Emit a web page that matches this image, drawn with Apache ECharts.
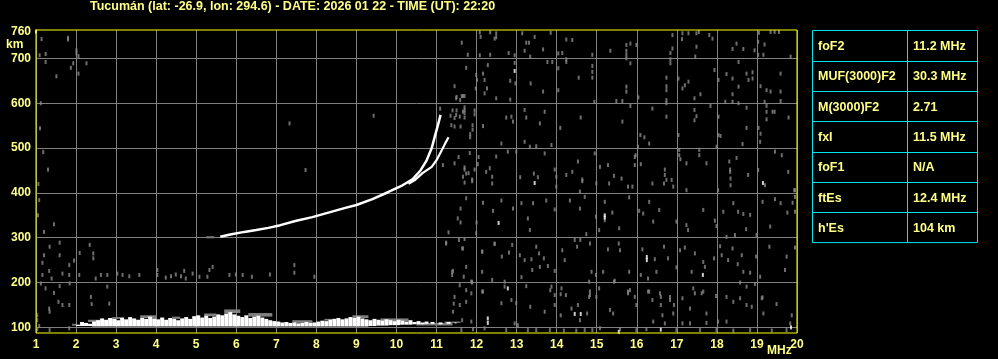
<!DOCTYPE html>
<html><head><meta charset="utf-8">
<script src="https://cdn.jsdelivr.net/npm/echarts@6/dist/echarts.min.js"></script>
<style>html,body{margin:0;padding:0;background:#000;}#c{width:998px;height:359px;}</style>
</head><body><div id="c"></div>
<script>
const titleText = 'Tucumán (lat: -26.9, lon: 294.6) - DATE: 2026 01 22 - TIME (UT): 22:20';
const yTicks = [100, 200, 300, 400, 500, 600, 700];
const yLabels = [100, 200, 300, 400, 500, 600, 700, 760];
const paramNames = ['foF2', 'MUF(3000)F2', 'M(3000)F2', 'fxI', 'foF1', 'ftEs', "h'Es"];
const paramValues = ['11.2 MHz', '30.3 MHz', '2.71', '11.5 MHz', 'N/A', '12.4 MHz', '104 km'];

// F-layer traces [MHz, km]
const oTrace = [[5.6,302],[5.85,307],[6.2,313],[6.5,317],[6.8,322],[7.1,328],[7.5,338],[7.9,346],[8.3,356],[8.7,366],[9.0,373],[9.4,386],[9.8,402],[10.15,417],[10.4,430],[10.6,450],[10.75,472],[10.88,500],[10.97,530],[11.05,556],[11.1,574]];
const xTrace = [[10.3,420],[10.45,428],[10.65,444],[10.88,458],[11.0,473],[11.13,495],[11.22,511],[11.3,524]];
const fStart = [[5.25,301],[5.45,301]];

// E-layer echo band columns: [fStart, fEnd, hLow, hHigh]
const eBandWhite = [
[2.0,2.1,103,106],[2.1,2.2,103,112],[2.2,2.3,103,110],[2.3,2.4,103,108],[2.4,2.5,102,113],[2.5,2.6,102,116],[2.6,2.7,102,120],[2.7,2.8,102,117],[2.8,2.9,102,121],[2.9,3.0,102,119],
[3.0,3.1,102,116],[3.1,3.2,102,122],[3.2,3.3,102,118],[3.3,3.4,102,123],[3.4,3.5,102,120],[3.5,3.6,102,117],[3.6,3.7,102,121],[3.7,3.8,102,119],[3.8,3.9,102,124],[3.9,4.0,102,120],
[4.0,4.1,102,118],[4.1,4.2,102,122],[4.2,4.3,102,117],[4.3,4.4,102,121],[4.4,4.5,102,119],[4.5,4.6,102,116],[4.6,4.7,102,120],[4.7,4.8,102,123],[4.8,4.9,102,119],[4.9,5.0,102,125],
[5.0,5.1,102,127],[5.1,5.2,102,122],[5.2,5.3,102,126],[5.3,5.4,102,121],[5.4,5.5,102,124],[5.5,5.6,102,129],[5.6,5.7,102,127],[5.7,5.8,102,131],[5.8,5.9,102,134],[5.9,6.0,102,129],
[6.0,6.1,102,126],[6.1,6.2,102,123],[6.2,6.3,102,127],[6.3,6.4,102,121],[6.4,6.5,102,124],[6.5,6.6,102,126],[6.6,6.7,102,122],[6.7,6.8,102,119],[6.8,6.9,102,116],[6.9,7.0,102,114],
[7.0,7.1,102,113],[7.1,7.2,102,111],[7.2,7.3,102,112],[7.3,7.4,102,110],[7.4,7.5,102,111],[7.5,7.6,102,109],[7.6,7.7,102,110],[7.7,7.8,102,112],[7.8,7.9,102,110],[7.9,8.0,102,111],
[8.0,8.1,102,113],[8.1,8.2,102,115],[8.2,8.3,102,114],[8.3,8.4,102,117],[8.4,8.5,102,119],[8.5,8.6,102,121],[8.6,8.7,102,118],[8.7,8.8,102,120],[8.8,8.9,102,123],[8.9,9.0,102,121],
[9.0,9.1,102,124],[9.1,9.2,102,120],[9.2,9.3,102,118],[9.3,9.4,103,116],[9.4,9.5,103,119],[9.5,9.6,104,117],[9.6,9.7,104,115],[9.7,9.8,104,118],[9.8,9.9,105,116],[9.9,10.0,105,114],
[10.0,10.1,105,117],[10.1,10.2,106,115],[10.2,10.3,106,113],[10.3,10.4,106,116],[10.4,10.5,107,112],[10.5,10.6,107,114],[10.6,10.7,107,111],[10.7,10.8,108,113],
[10.85,10.95,108,112],[11.05,11.15,107,111],[11.25,11.35,108,112],[11.45,11.5,109,111]];
const eBandGray = [[1.9,2.0,104,108],[2.3,2.6,112,117],[2.9,3.1,119,123],[3.6,4.0,121,127],[4.4,4.6,119,124],[5.2,5.5,125,131],[5.7,6.1,132,140],[6.3,6.9,124,132],[7.4,7.9,110,116],[8.2,8.5,115,119],[8.9,9.3,121,127],[9.6,10.3,114,120],[10.5,11.4,104,110],[11.2,11.6,110,113]];

// isolated strong echoes
const whiteDots = [[13.45,422],[12.55,333],[15.2,350],[15.2,345],[16.25,257],[16.25,250],[17.65,217],[12.78,187],[19.15,422],[12.95,672],[14.45,130],[14.6,130],[15.55,90],[16.6,95],[19.85,100],[12.28,110],[12.28,120],[1.0,760]];

// weak scattered echoes
const noiseGray = [
[1.14,743],[1.24,710],[1.09,707],[1.24,692],[1.8,746],[1.8,742],[2.01,718],[2.01,711],[2.06,705],[1.93,689],[1.87,679],[2.06,666],[1.51,660],[2.26,689],
[1.1,544],[1.18,491],[1.08,384],[1.05,350],[1.2,313],[1.3,452],[1.06,420],[1.45,330],[1.12,600],
[12.08,758],[12.34,758],[12.49,756],[12.49,747],[12.1,748],[12.45,744],[13.14,756],[13.45,748],[13.85,757],[14.24,742],[14.39,741],[13.24,735],[13.31,735],[11.63,735],[11.78,708],[12.08,707],[12.34,708],[12.8,712],[12.95,707],[13.2,717],[13.34,704],[13.66,720],[13.77,692],[13.89,692],[14.04,711],[14.14,712],[14.24,698],[14.89,708],[15.34,717],[15.74,730],[15.84,733],[15.74,717],[15.74,708],[15.99,730],[15.84,689],[15.74,700],[16.89,752],[16.89,722],[16.84,712],[16.84,698],[16.84,689],[17.13,743],[17.14,756],[17.29,756],[17.49,756],[17.55,759],[17.81,752],[17.89,744],[18.49,733],[18.39,721],[18.66,721],[18.94,718],[19.03,737],[19.05,757],[19.19,731],[19.34,759],[19.44,759],[19.55,759],[19.16,708],[19.84,704],[17.49,726],[17.46,704],[19.03,708],
[11.74,679],[11.99,663],[12.01,652],[12.16,666],[12.28,685],[12.2,652],[11.98,633],[12.2,622],[12.26,633],[11.66,616],[11.59,607],[11.49,611],[11.45,638],[12.49,611],[12.84,650],[12.84,608],[12.95,690],[12.97,644],[13.35,644],[13.66,626],[14.04,629],[14.04,678],[14.24,692],[14.55,657],[14.89,683],[14.89,670],[14.89,657],[14.94,603],[15.49,605],[15.64,605],[15.74,637],[15.74,626],[15.84,594],[16.04,613],[16.39,588],[16.74,657],[16.74,638],[16.74,629],[16.74,607],[16.74,600],[17.04,655],[17.14,633],[17.2,640],[17.29,648],[17.44,611],[17.59,620],[17.84,594],[17.94,674],[18.04,652],[18.24,665],[18.39,655],[18.39,620],[18.54,692],[18.74,666],[18.79,652],[18.89,669],[18.89,655],[19.09,638],[19.24,629],[19.34,626],[19.59,626],[19.59,666],[19.59,605],[19.19,603],[19.24,594],[19.39,581],[19.24,581],[18.74,590],[18.54,637],[18.21,603],[18.39,603],[18.54,600],[18.04,570],[18.04,529],[18.09,527],[17.44,585],[17.44,562],[17.49,571],[17.04,529],[16.74,570],[16.09,529],[16.19,524],[15.64,559],[14.6,568],[14.09,545],[13.58,555],[13.7,581],[13.2,585],[13.24,568],[12.87,570],[12.74,568],[12.91,559],[12.16,549],[11.84,531],[11.84,524],[11.95,575],[11.66,581],[11.7,568],[11.58,570],[11.35,572],[11.49,574],[11.37,551],[11.09,588],[18.74,545],[19.04,545],[19.09,532],[19.79,568],[19.24,564],[19.44,581],
[11.45,466],[11.66,436],[11.74,443],[11.7,423],[11.89,430],[11.89,426],[12.03,464],[12.24,447],[12.33,455],[12.39,436],[12.49,481],[12.39,421],[12.62,510],[12.78,492],[12.99,492],[13.09,435],[13.2,514],[13.33,503],[13.49,504],[13.43,443],[13.53,435],[13.7,488],[13.87,507],[13.95,452],[13.99,436],[13.99,414],[14.24,440],[14.39,447],[14.53,470],[14.64,430],[14.64,426],[14.58,403],[14.95,488],[14.99,421],[15.08,458],[15.28,462],[15.31,421],[15.43,438],[15.62,432],[15.78,414],[15.89,414],[15.95,480],[15.95,462],[15.97,484],[16.03,503],[16.1,464],[16.31,510],[16.39,421],[16.7,452],[16.7,440],[16.74,429],[16.68,421],[16.87,429],[16.91,414],[17.06,496],[17.06,484],[17.09,475],[17.24,466],[17.24,406],[17.56,496],[17.56,484],[17.74,466],[17.99,503],[18.03,406],[18.33,452],[18.33,447],[18.34,432],[18.34,417],[18.31,470],[18.49,478],[18.64,509],[18.78,440],[19.03,451],[19.08,514],[19.2,417],[19.45,492],[19.62,484],[19.78,447],[19.95,406],[11.16,462],
[11.74,388],[11.53,343],[11.99,310],[12.16,378],[12.41,360],[12.62,383],[12.91,365],[13.12,377],[13.28,343],[13.33,317],[13.41,377],[13.74,383],[13.95,363],[14.33,383],[14.58,365],[14.7,391],[14.74,308],[14.98,347],[15.06,317],[15.2,380],[15.2,339],[15.39,356],[15.56,321],[15.81,390],[16.06,360],[16.16,354],[16.31,380],[16.41,336],[16.56,362],[16.99,336],[17.24,328],[17.28,317],[17.66,362],[17.95,338],[17.99,326],[18.16,358],[18.41,377],[18.45,306],[18.53,358],[18.66,353],[18.73,319],[18.83,351],[18.99,306],[19.14,380],[19.33,325],[19.45,386],[19.59,377],[19.76,356],[19.89,378],[19.93,406],[19.95,391],[19.95,358],[18.24,302],
[11.24,287],[11.56,295],[11.64,276],[12.14,269],[12.45,286],[12.63,258],[12.81,267],[12.89,284],[13.08,261],[13.2,250],[13.37,252],[13.49,280],[13.56,265],[13.68,254],[13.78,237],[11.41,226],[11.68,213],[11.88,202],[12.14,224],[12.39,206],[12.7,202],[13.12,212],[13.39,228],[13.58,235],[13.95,226],[14.14,272],[14.2,250],[14.45,295],[14.59,295],[14.51,280],[14.83,287],[14.87,224],[14.98,217],[15.16,224],[15.28,274],[15.58,272],[15.55,287],[15.81,224],[16.1,217],[16.14,274],[16.28,209],[16.45,252],[16.49,224],[16.68,280],[16.78,254],[16.99,234],[17.08,272],[17.2,278],[17.37,224],[17.45,265],[17.66,246],[17.7,235],[17.93,254],[18.08,281],[18.12,261],[18.28,250],[18.39,276],[18.52,241],[18.62,261],[18.66,224],[18.83,222],[18.98,258],[19.08,213],[19.31,280],[19.7,228],[19.74,258],[19.95,278],
[11.58,194],[11.89,200],[12.16,180],[12.7,191],[13.24,192],[13.87,191],[13.95,172],[14.12,187],[14.83,172],[15.06,187],[14.99,168],[15.45,204],[15.78,180],[16.31,180],[16.58,176],[16.83,168],[17.41,187],[17.62,176],[17.98,170],[18.24,168],[18.58,200],[18.74,191],[18.95,197],[19.14,167],
[13.84,183],[14.1,174],[14.23,172],[14.81,202],[14.83,180],[14.81,168],[14.53,150],[14.37,142],[14.76,131],[14.58,116],[14.1,127],[13.95,150],[13.7,135],[13.34,146],[12.99,154],[12.87,161],[12.62,154],[12.95,109],[13.03,105],[12.74,94],[13.28,94],[13.83,94],[14.18,93],[14.49,93],[14.7,94],[14.89,94],[15.08,98],[15.33,139],[15.43,202],[15.41,131],[15.78,176],[15.83,183],[15.95,168],[15.99,150],[16.28,180],[16.39,161],[16.6,168],[16.6,150],[16.83,161],[16.93,150],[16.64,127],[16.41,113],[16.7,109],[16.91,131],[17.14,165],[17.33,142],[17.45,176],[17.66,180],[17.74,131],[17.74,110],[17.33,109],[17.14,109],[18.03,113],[18.24,113],[18.41,157],[18.58,165],[18.74,150],[18.87,146],[19.16,131],[19.49,152],[19.12,165],[19.83,109],[19.87,127],[16.99,94],[17.58,94],[17.99,94],[18.41,93],[18.83,94],[19.37,93],[19.74,94],[15.99,94],[16.24,96],[15.58,96],[13.49,94],
[1.2,261],[1.34,280],[1.59,289],[2.34,284],[2.09,266],[2.43,265],[2.43,254],[1.59,261],[1.95,249],[1.83,239],[1.16,244],[1.16,217],[1.33,226],[1.39,209],[1.66,220],[1.83,217],[2.08,217],[2.49,209],[2.62,217],[2.78,217],[3.03,220],[3.16,217],[3.33,214],[3.58,217],[4.03,228],[4.03,217],[4.24,211],[4.37,214],[4.49,218],[4.62,214],[4.7,226],[4.74,209],[4.91,220],[5.08,213],[5.28,213],[5.33,228],[5.41,235],[5.83,217],[5.99,218],[6.16,217],[6.39,213],[6.84,218],[7.45,239],[7.45,222],[7.95,213],[11.24,289],[11.39,224],[11.39,217],[11.66,276],[11.74,235],[12.14,269],[12.45,287],[11.87,202],[11.74,183],[11.87,176],[12.14,180],[11.45,168],[11.43,153],[11.58,150],[11.41,135],[11.74,157],[11.64,116],[11.87,113],[12.2,98],[11.62,94],[11.91,96],
[1.24,187],[1.45,177],[1.59,192],[1.84,198],[1.12,198],[1.56,157],[1.66,150],[1.83,150],[1.33,142],[1.34,135],[2.37,168],[2.39,152],[2.83,153],[2.78,191],[1.03,127],[1.03,116],[1.08,103],[1.03,96],[1.83,98],[1.34,94],
[7.33,555],[7.73,451],[9.43,572],[11.5,614],[11.63,616],[11.7,616],[11.7,591],[11.7,585],[11.7,578],[11.95,584],[11.4,584],[11.5,584],[11.45,548],[11.6,548],[11.9,551],[11.9,541],[11.83,489],[11.55,480],[11.7,457],[11.7,452],[11.95,452],[11.8,444],[11.6,365],[11.6,334],[11.3,312],[11.7,297],[12.0,334],[12.05,480],[11.45,567]
];

const chart = echarts.init(document.getElementById('c'), null, {renderer: 'canvas'});
const Y = '#ffff88';
const FONT = 'Liberation Sans';

const rectItem = (fill) => function (params, api) {
  const p1 = api.coord([api.value(0), api.value(3)]);
  const p2 = api.coord([api.value(1), api.value(2)]);
  return {type: 'rect', shape: {x: p1[0], y: p1[1], width: p2[0] - p1[0], height: p2[1] - p1[1]}, style: {fill: fill}};
};

// table graphic
const tblX = 812.5, tblY = 30.5, rowH = 30.3, tblW = 165, colX = 907.5;
const g = [];
g.push({type: 'rect', shape: {x: tblX, y: tblY, width: tblW, height: rowH * paramNames.length}, style: {fill: 'none', stroke: '#00e5ee', lineWidth: 1}, z: 10});
g.push({type: 'line', shape: {x1: colX, y1: tblY, x2: colX, y2: tblY + rowH * paramNames.length}, style: {stroke: '#00e5ee', lineWidth: 1}, z: 10});
paramNames.forEach((n, i) => {
  if (i > 0) g.push({type: 'line', shape: {x1: tblX, y1: Math.round(tblY + i * rowH) + 0.5, x2: tblX + tblW, y2: Math.round(tblY + i * rowH) + 0.5}, style: {stroke: '#00e5ee', lineWidth: 1}, z: 10});
  const cy = tblY + i * rowH + rowH / 2 + 1;
  g.push({type: 'text', x: 818, y: cy, style: {text: n, fill: Y, font: 'bold 12.5px ' + FONT, verticalAlign: 'middle'}, z: 10});
  g.push({type: 'text', x: 913, y: cy, style: {text: paramValues[i], fill: Y, font: 'bold 12.5px ' + FONT, verticalAlign: 'middle'}, z: 10});
});
g.push({type: 'text', x: 6, y: 45, style: {text: 'km', fill: Y, font: 'bold 12px ' + FONT, verticalAlign: 'middle'}, z: 10});
g.push({type: 'text', x: 767, y: 351, style: {text: 'MHz', fill: Y, font: 'bold 12px ' + FONT, verticalAlign: 'middle'}, z: 10});

chart.setOption({
  backgroundColor: '#000',
  animation: false,
  title: {text: titleText, left: 90, top: 0, padding: 0, textStyle: {color: Y, fontSize: 12.5, fontWeight: 'bold', fontFamily: FONT}},
  grid: {left: 36, right: 201, top: 30, bottom: 26, show: true, borderColor: '#ffff00', borderWidth: 1, backgroundColor: 'transparent', z: 5},
  xAxis: {type: 'value', min: 1, max: 20, interval: 1, axisLine: {show: false}, axisTick: {show: false},
    splitLine: {show: true, lineStyle: {color: '#808080', width: 1}},
    axisLabel: {color: Y, fontSize: 12, fontWeight: 'bold', fontFamily: FONT, margin: 6, showMinLabel: true, showMaxLabel: true}},
  yAxis: {type: 'value', min: 87.5, max: 763.3, axisLine: {show: false}, axisTick: {show: false, customValues: yTicks},
    splitLine: {show: true, lineStyle: {color: '#808080', width: 1}},
    axisLabel: {customValues: yLabels, color: Y, fontSize: 12, fontWeight: 'bold', fontFamily: FONT, margin: 5}},
  graphic: g,
  series: [
    {type: 'scatter', data: noiseGray, symbol: 'rect', symbolSize: [2, 4], itemStyle: {color: '#8a8a8a'}, silent: true, z: 2},
    {type: 'custom', data: eBandGray, renderItem: rectItem('#808080'), silent: true, z: 3},
    {type: 'custom', data: eBandWhite, renderItem: rectItem('#ffffff'), silent: true, z: 4},
    {type: 'line', data: fStart, symbol: 'none', lineStyle: {color: '#808080', width: 2}, silent: true, z: 3},
    {type: 'line', data: oTrace, symbol: 'none', lineStyle: {color: '#ffffff', width: 2.5}, silent: true, z: 4},
    {type: 'line', data: xTrace, symbol: 'none', lineStyle: {color: '#ffffff', width: 2.2}, silent: true, z: 4},
    {type: 'scatter', data: whiteDots, symbol: 'rect', symbolSize: [2, 4], itemStyle: {color: '#ffffff'}, silent: true, z: 4}
  ]
});
</script></body></html>
